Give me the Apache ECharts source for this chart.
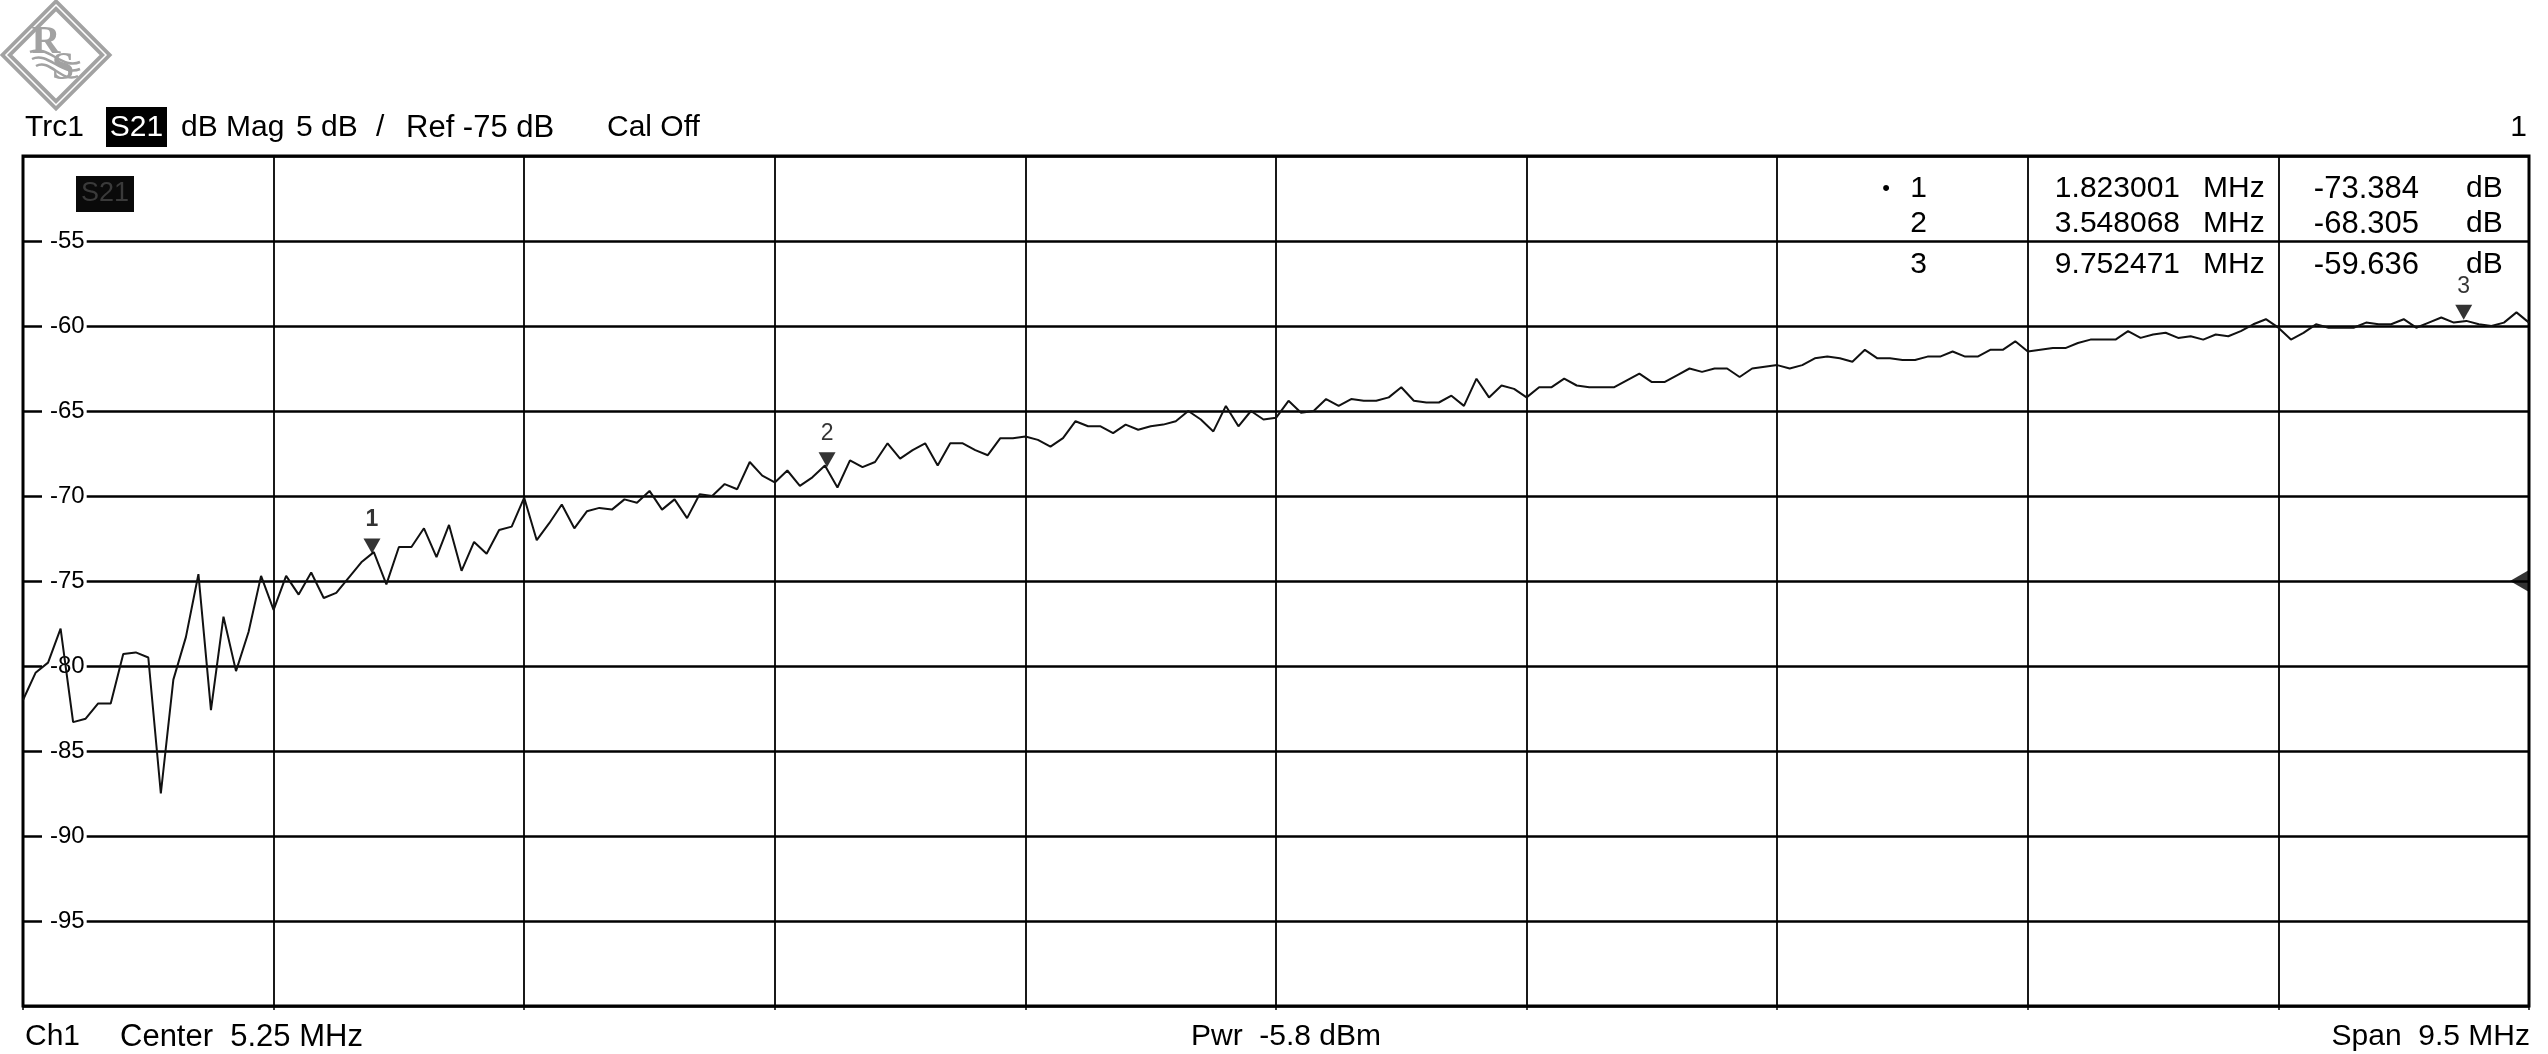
<!DOCTYPE html>
<html><head><meta charset="utf-8">
<script src="https://cdn.jsdelivr.net/npm/echarts@6/dist/echarts.min.js"></script>
<style>html,body{margin:0;padding:0;background:#fff}#c{width:2548px;height:1054px}</style>
</head><body><div id="c"></div>
<script>
// ---- data ----
const freqStart = 0.5;   // MHz
const freqStop = 10.0;   // MHz
const s21Values = [
 -82.0,-80.4,-79.8,-77.8,-83.3,-83.1,-82.2,-82.2,-79.3,-79.2,
 -79.5,-87.5,-80.8,-78.3,-74.6,-82.6,-77.1,-80.3,-78.0,-74.7,
 -76.7,-74.7,-75.8,-74.5,-76.0,-75.7,-74.8,-73.9,-73.3,-75.2,
 -73.0,-73.0,-71.9,-73.6,-71.7,-74.4,-72.7,-73.4,-72.0,-71.8,
 -70.1,-72.6,-71.6,-70.5,-71.9,-70.9,-70.7,-70.8,-70.2,-70.4,
 -69.7,-70.8,-70.2,-71.3,-69.9,-70.0,-69.3,-69.6,-68.0,-68.8,
 -69.2,-68.5,-69.4,-68.9,-68.2,-69.5,-67.9,-68.3,-68.0,-66.9,
 -67.8,-67.3,-66.9,-68.2,-66.9,-66.9,-67.3,-67.6,-66.6,-66.6,
 -66.5,-66.7,-67.1,-66.6,-65.6,-65.9,-65.9,-66.3,-65.8,-66.1,
 -65.9,-65.8,-65.6,-65.0,-65.5,-66.2,-64.7,-65.9,-65.0,-65.5,
 -65.4,-64.4,-65.1,-65.0,-64.3,-64.7,-64.3,-64.4,-64.4,-64.2,
 -63.6,-64.4,-64.5,-64.5,-64.1,-64.7,-63.1,-64.2,-63.5,-63.7,
 -64.2,-63.6,-63.6,-63.1,-63.5,-63.6,-63.6,-63.6,-63.2,-62.8,
 -63.3,-63.3,-62.9,-62.5,-62.7,-62.5,-62.5,-63.0,-62.5,-62.4,
 -62.3,-62.5,-62.3,-61.9,-61.8,-61.9,-62.1,-61.4,-61.9,-61.9,
 -62.0,-62.0,-61.8,-61.8,-61.5,-61.8,-61.8,-61.4,-61.4,-60.9,
 -61.5,-61.4,-61.3,-61.3,-61.0,-60.8,-60.8,-60.8,-60.3,-60.7,
 -60.5,-60.4,-60.7,-60.6,-60.8,-60.5,-60.6,-60.3,-59.9,-59.6,
 -60.1,-60.8,-60.4,-59.9,-60.1,-60.1,-60.1,-59.8,-59.9,-59.9,
 -59.6,-60.1,-59.8,-59.5,-59.8,-59.7,-59.9,-60.0,-59.8,-59.2,
 -59.8
];
const yMin = -100, yMax = -50, yStep = 5;
const xDivisions = 10;
const markerIds = ['1', '2', '3'];
const markerFreqs = [1.823001, 3.548068, 9.752471];
const markerValues = [-73.384, -68.305, -59.636];
const refLevel = -75;
const headerTokens = ['Trc1', 'S21', 'dB Mag', '5 dB', '/', 'Ref -75 dB', 'Cal Off'];
const footerTokens = ['Ch1', 'Center  5.25 MHz', 'Pwr  -5.8 dBm', 'Span  9.5 MHz'];

// ---- build ----
const FONT = '"Liberation Sans", Arial, sans-serif';
const step = (freqStop - freqStart) / (s21Values.length - 1);
const traceData = s21Values.map((v, i) => [freqStart + i * step, v]);
const markerData = markerFreqs.map((f, i) => ({
  value: [f, markerValues[i]], name: markerIds[i],
  label: { fontWeight: i === 0 ? 'bold' : 'normal' }
}));

function txt(text, x, y, size, align, fill) {
  return {
    type: 'text', x: x, y: y, z: 100,
    style: { text: text, fill: fill || '#000', fontSize: size, fontFamily: FONT,
             align: align || 'left', verticalAlign: 'middle' }
  };
}

const LOGO = '#a2a2a2';
const graphics = [];
// R&S logo
graphics.push({
  type: 'group', x: 0, y: 0, z: 100, children: [
    { type: 'polygon', shape: { points: [[56, 5], [106, 55], [56, 105], [6, 55]] },
      style: { fill: 'none', stroke: LOGO, lineWidth: 9 } },
    { type: 'polygon', shape: { points: [[56, 5], [106, 55], [56, 105], [6, 55]] },
      style: { fill: 'none', stroke: '#ffffff', lineWidth: 1.5 } },
    { type: 'text', x: 46, y: 43, style: { text: 'R', fill: LOGO, fontSize: 40, fontWeight: 'bold',
      fontFamily: '"Liberation Serif", serif', align: 'center', verticalAlign: 'middle' } },
    { type: 'text', x: 63, y: 69, style: { text: 'S', fill: LOGO, fontSize: 40, fontWeight: 'bold',
      fontFamily: '"Liberation Serif", serif', align: 'center', verticalAlign: 'middle' } },
    { type: 'bezierCurve', shape: { x1: 30, y1: 52, x2: 80, y2: 62, cpx1: 48, cpy1: 44, cpx2: 62, cpy2: 70 },
      style: { stroke: LOGO, lineWidth: 2.5, fill: 'none' } },
    { type: 'bezierCurve', shape: { x1: 32, y1: 59, x2: 80, y2: 69, cpx1: 48, cpy1: 51, cpx2: 62, cpy2: 77 },
      style: { stroke: LOGO, lineWidth: 2.5, fill: 'none' } },
    { type: 'bezierCurve', shape: { x1: 36, y1: 66, x2: 78, y2: 76, cpx1: 50, cpy1: 58, cpx2: 62, cpy2: 84 },
      style: { stroke: LOGO, lineWidth: 2.5, fill: 'none' } }
  ]
});
// header
graphics.push(txt(headerTokens[0], 25, 128, 30));
graphics.push({ type: 'rect', z: 100, shape: { x: 106, y: 107, width: 61, height: 40 }, style: { fill: '#000' } });
graphics.push(txt(headerTokens[1], 136.5, 128, 30, 'center', '#fff'));
graphics.push(txt(headerTokens[2], 181, 128, 30));
graphics.push(txt(headerTokens[3], 296, 128, 30));
graphics.push(txt(headerTokens[4], 376, 128, 30));
graphics.push(txt(headerTokens[5], 406, 128, 31));
graphics.push(txt(headerTokens[6], 607, 128, 30));
graphics.push(txt('1', 2527, 128, 30, 'right'));
// trace label inside plot
graphics.push({ type: 'rect', z: 100, shape: { x: 76, y: 176, width: 58, height: 36 }, style: { fill: '#0a0a0a' } });
graphics.push(txt('S21', 105, 194, 27, 'center', '#3a3a3a'));
// marker table
const rowY = [189, 224, 265];
markerIds.forEach((id, i) => {
  graphics.push(txt(id, 1927, rowY[i], 30, 'right'));
  graphics.push(txt(markerFreqs[i].toFixed(6), 2180, rowY[i], 30, 'right'));
  graphics.push(txt('MHz', 2203, rowY[i], 30, 'left'));
  graphics.push(txt(markerValues[i].toFixed(3), 2419, rowY[i], 31, 'right'));
  graphics.push(txt('dB', 2466, rowY[i], 30, 'left'));
});
graphics.push(txt('\u2022', 1886, 189, 22, 'center'));
// footer
graphics.push(txt(footerTokens[0], 25, 1037, 30));
graphics.push(txt(footerTokens[1], 120, 1037, 31));
graphics.push(txt(footerTokens[2], 1191, 1037, 30));
graphics.push(txt(footerTokens[3], 2530, 1037, 30, 'right'));

const chart = echarts.init(document.getElementById('c'), null, { renderer: 'canvas' });
chart.setOption({
  animation: false,
  backgroundColor: '#fff',
  grid: { left: 23, top: 156, width: 2506, height: 850, show: true,
          borderColor: '#000', borderWidth: 3, backgroundColor: 'transparent', containLabel: false },
  xAxis: [
    { type: 'value', min: freqStart, max: freqStop, show: true,
      axisLine: { show: false }, axisTick: { show: false }, axisLabel: { show: false }, splitLine: { show: false } },
    { type: 'value', min: 0, max: xDivisions, interval: 1, position: 'bottom',
      axisLine: { show: false },
      axisTick: { show: true, length: 4, lineStyle: { color: '#000', width: 1.5 } },
      axisLabel: { show: false },
      splitLine: { show: true, lineStyle: { color: '#000', width: 1.8 } } }
  ],
  yAxis: {
    type: 'value', min: yMin, max: yMax, interval: yStep,
    axisLine: { show: false }, axisTick: { show: false },
    splitLine: { show: true, lineStyle: { color: '#000', width: 2.5 } },
    axisLabel: { show: true, inside: true, margin: 19, showMinLabel: false, showMaxLabel: false,
      color: '#000', fontSize: 24, fontFamily: FONT, backgroundColor: '#fff', padding: [2, 2, 2, 8],
      formatter: v => String(v) }
  },
  series: [
    { type: 'line', xAxisIndex: 0, data: traceData, showSymbol: false, symbol: 'none',
      lineStyle: { color: '#111', width: 2 }, z: 5 },
    { type: 'scatter', xAxisIndex: 0, data: markerData, clip: false, z: 6,
      symbol: 'path://M0,0 L16,0 L8,14 Z', symbolSize: [17, 15], symbolOffset: [0, -7.5],
      itemStyle: { color: '#000' },
      label: { show: true, position: 'top', distance: 7, formatter: '{b}', color: '#000',
               fontSize: 23, fontFamily: FONT } },
    { type: 'scatter', xAxisIndex: 0, data: [[freqStop, refLevel]], clip: false, z: 6,
      symbol: 'path://M10,0 L10,10 L0,5 Z', symbolSize: [19, 22], symbolOffset: [-9.5, 0],
      itemStyle: { color: '#000' } }
  ],
  graphic: graphics
});
</script></body></html>
